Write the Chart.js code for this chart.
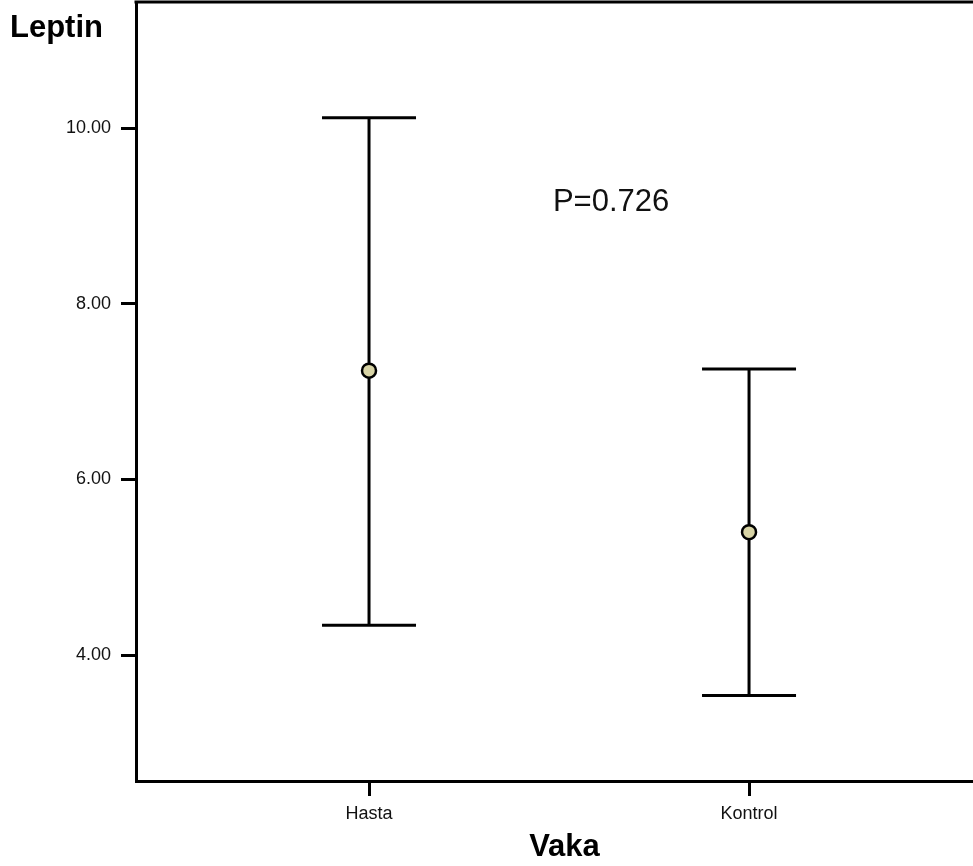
<!DOCTYPE html>
<html>
<head>
<meta charset="utf-8">
<script src="https://cdn.jsdelivr.net/npm/chart.js@4/dist/chart.umd.min.js"></script>
<style>
html,body{margin:0;padding:0;background:#fff;overflow:hidden;}
#outer{width:973px;height:866px;overflow:hidden;position:relative;}
#wrap{width:993px;height:866px;position:relative;}
</style>
</head>
<body>
<div id="outer"><div id="wrap"><canvas id="c"></canvas></div></div>
<script>
const categories = ["Hasta", "Kontrol"];
const categoryPos = [1, 2];
const means = [7.24, 5.40];
const upper = [10.12, 7.26];
const lower = [4.34, 3.54];
const yTicks = [4, 6, 8, 10];
const yTitle = "Leptin";
const xTitle = "Vaka";
const annotation = "P=0.726";

const FONT = "'Liberation Sans', Arial, Helvetica, sans-serif";

const errorBars = {
  id: 'errorBars',
  beforeDatasetsDraw(chart) {
    const {ctx, scales: {x, y}} = chart;
    ctx.save();
    ctx.strokeStyle = '#000';
    ctx.lineWidth = 3;
    ctx.lineCap = 'butt';
    categoryPos.forEach((c, i) => {
      const px = x.getPixelForValue(c);
      const pTop = y.getPixelForValue(upper[i]);
      const pBot = y.getPixelForValue(lower[i]);
      const half = 47;
      ctx.beginPath();
      ctx.moveTo(px, pTop); ctx.lineTo(px, pBot);
      ctx.moveTo(px - half, pTop); ctx.lineTo(px + half, pTop);
      ctx.moveTo(px - half, pBot); ctx.lineTo(px + half, pBot);
      ctx.stroke();
    });
    ctx.restore();
  },
  afterDraw(chart) {
    const {ctx, chartArea, scales: {x, y}} = chart;
    ctx.save();
    ctx.strokeStyle = '#000';
    ctx.lineWidth = 3;
    ctx.beginPath();
    ctx.moveTo(chartArea.left - 1.5, chartArea.top);
    ctx.lineTo(chartArea.right + 1.5, chartArea.top);
    ctx.lineTo(chartArea.right + 1.5, chartArea.bottom);
    ctx.stroke();
    ctx.fillStyle = '#000';
    ctx.font = "bold 31px " + FONT;
    ctx.textAlign = 'left';
    ctx.textBaseline = 'alphabetic';
    ctx.fillText(yTitle, 10, 37);
    ctx.font = "31px " + FONT;
    ctx.fillStyle = '#111';
    ctx.fillText(annotation, x.getPixelForValue(1.484), y.getPixelForValue(9.06));
    ctx.restore();
  }
};

new Chart(document.getElementById('c'), {
  type: 'scatter',
  data: {
    datasets: [{
      data: categoryPos.map((c, i) => ({x: c, y: means[i]})),
      pointRadius: 7,
      pointHoverRadius: 7,
      pointBackgroundColor: '#d8d4a6',
      pointBorderColor: '#000',
      pointBorderWidth: 2.5,
      showLine: false
    }]
  },
  options: {
    responsive: true,
    maintainAspectRatio: false,
    animation: false,
    events: [],
    layout: {autoPadding: false, padding: {top: 2, right: 0, left: 0, bottom: 0}},
    plugins: {legend: {display: false}, tooltip: {enabled: false}},
    scales: {
      x: {
        type: 'linear',
        min: 0.3868,
        max: 2.642,
        afterBuildTicks(s) { s.ticks = categoryPos.map(v => ({value: v})); },
        afterFit(s) { s.height = 85; s.paddingLeft = 0; s.paddingRight = 0; },
        ticks: {
          callback: (v) => categories[categoryPos.indexOf(v)] || '',
          font: {family: FONT, size: 18},
          color: '#111',
          padding: 7,
          maxRotation: 0,
          autoSkip: false
        },
        grid: {drawOnChartArea: false, tickLength: 15, tickWidth: 3, tickColor: '#000'},
        border: {display: true, color: '#000', width: 3},
        title: {
          display: true,
          text: xTitle,
          font: {family: FONT, size: 31, weight: 'bold'},
          color: '#000',
          padding: {top: 4, bottom: 0}
        }
      },
      y: {
        type: 'linear',
        min: 2.565,
        max: 11.44,
        afterBuildTicks(s) { s.ticks = yTicks.map(v => ({value: v})); },
        afterFit(s) { s.width = 136; s.paddingTop = 0; s.paddingBottom = 0; },
        ticks: {
          callback: (v) => Number(v).toFixed(2),
          font: {family: FONT, size: 18},
          color: '#111',
          padding: 10,
          autoSkip: false
        },
        grid: {drawOnChartArea: false, tickLength: 15, tickWidth: 3, tickColor: '#000'},
        border: {display: true, color: '#000', width: 3}
      }
    }
  },
  plugins: [errorBars]
});
</script>
</body>
</html>
